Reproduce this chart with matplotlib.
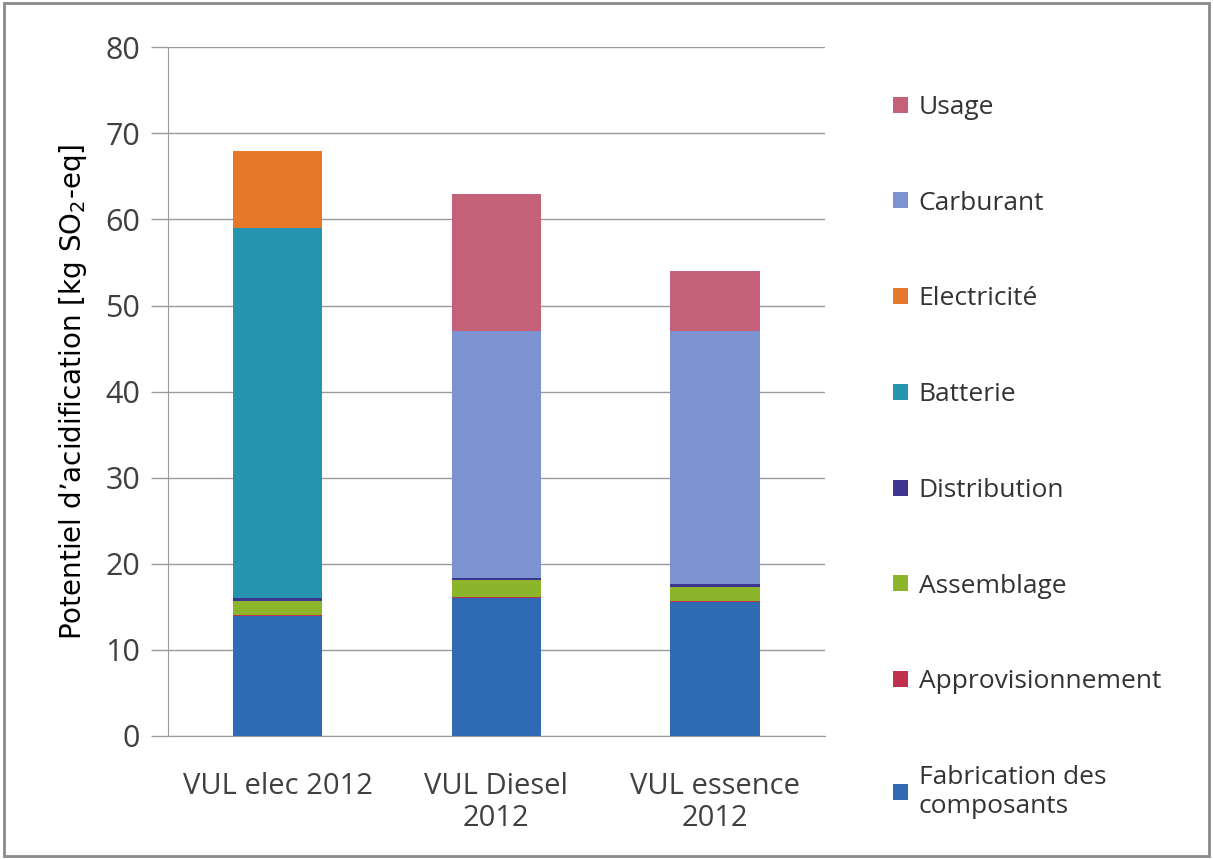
import matplotlib.pyplot as plt
import matplotlib.patches as mpatches
import numpy as np

# categories and stacked components (kg SO2-eq)
vehicles = ["VUL elec 2012", "VUL Diesel\n2012", "VUL essence\n2012"]
components = ["Fabrication des\ncomposants", "Approvisionnement", "Assemblage",
              "Distribution", "Batterie", "Electricité", "Carburant", "Usage"]
fabrication = [13.9, 16.0, 15.6]
approvisionnement = [0.1, 0.1, 0.1]
assemblage = [1.7, 2.0, 1.6]
distribution = [0.3, 0.3, 0.3]
batterie = [43.0, 0.0, 0.0]
electricite = [9.0, 0.0, 0.0]
carburant = [0.0, 28.6, 29.4]
usage = [0.0, 16.0, 7.0]
colors = ["#2f6bb5", "#c0304e", "#8db52c", "#3d3591", "#2594ae",
          "#e5782a", "#7d92d0", "#c46179"]

series = [fabrication, approvisionnement, assemblage, distribution,
          batterie, electricite, carburant, usage]

fig = plt.figure(figsize=(12.13, 8.59), dpi=100)
ax = fig.add_axes([0.1385, 0.1432, 0.5415, 0.8018])

x = np.arange(len(vehicles))
bottom = np.zeros(len(vehicles))
handles = []
for name, vals, col in zip(components, series, colors):
    b = ax.bar(x, vals, 0.41, bottom=bottom, color=col, label=name, zorder=3)
    bottom += np.array(vals)
    handles.append(b)

ax.set_xlim(-0.5, 2.5)
ax.set_ylim(0, 80)
ax.set_yticks(range(0, 81, 10))
ax.yaxis.grid(True, color="#9a9a9a", linewidth=1, zorder=0)
ax.set_xticks(x)
ax.set_xticklabels(vehicles, fontsize=21, color="#404040", family="Open Sans",
                   linespacing=1.15)
ax.tick_params(axis="x", length=0, pad=26)
ax.tick_params(axis="y", length=12, width=1, color="#9a9a9a", labelsize=22,
               labelcolor="#404040", pad=8)
for t in ax.get_yticklabels():
    t.set_family("Open Sans")
for s in ["top", "right"]:
    ax.spines[s].set_visible(False)
ax.spines["left"].set_color("#9a9a9a")
ax.spines["bottom"].set_color("#9a9a9a")

ax.set_ylabel("Potentiel d\u2019acidification [kg SO$_2$-eq]", fontsize=20,
              family="Liberation Sans Narrow", labelpad=12)

leg = fig.legend(handles[::-1], components[::-1], loc="upper left",
                 bbox_to_anchor=(0.717, 0.917), frameon=False,
                 prop={"family": "Open Sans", "size": 19}, labelspacing=2.68,
                 handlelength=0.55, handleheight=0.55, handletextpad=0.4)
for t in leg.get_texts():
    t.set_color("#333333")

fig.patches.append(mpatches.Rectangle((0.003, 0.004), 0.994, 0.992,
                                      transform=fig.transFigure, fill=False,
                                      edgecolor="#8a8a8a", linewidth=2))

fig.savefig("out.png", dpi=100)
